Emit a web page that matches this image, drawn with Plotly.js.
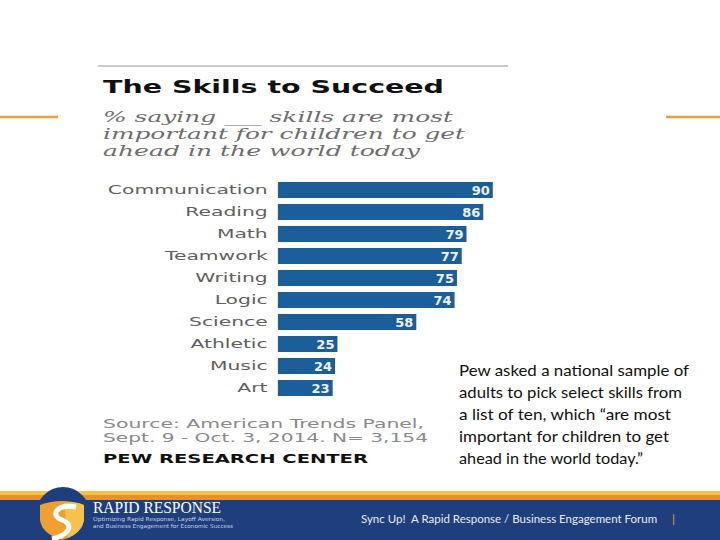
<!DOCTYPE html>
<html>
<head>
<meta charset="utf-8">
<script src="https://cdn.plot.ly/plotly-3.0.1.min.js"></script>
<style>
  html, body { margin: 0; padding: 0; background: #ffffff; }
  #chart { width: 720px; height: 540px; }
</style>
</head>
<body>
<div id="chart"></div>
<script>
// ---------------- data ----------------
const categories = ['Communication', 'Reading', 'Math', 'Teamwork', 'Writing', 'Logic', 'Science', 'Athletic', 'Music', 'Art'];
const values = [90, 86, 79, 77, 75, 74, 58, 25, 24, 23];

const titleText = 'The Skills to Succeed';
const subtitleLines = ['% saying ___ skills are most', 'important for children to get', 'ahead in the world today'];
const sourceLines = ['Source: American Trends Panel,', 'Sept. 9 - Oct. 3, 2014. N= 3,154'];
const brandText = 'PEW RESEARCH CENTER';
const noteLines = [
  'Pew asked a national sample of',
  'adults to pick select skills from',
  'a list of ten, which \u201care most',
  'important for children to get',
  'ahead in the world today.\u201d'
];
const bannerTitle = 'RAPID RESPONSE';
const bannerSubLines = ['Optimizing Rapid Response, Layoff Aversion,', 'and Business Engagement for Economic Success'];
const forumText = 'Sync Up!  A Rapid Response / Business Engagement Forum';
const forumBar = '|';

// ---------------- helpers (pixel -> paper) ----------------
const W = 720, H = 540;
const px = x => x / W;
const py = y => 1 - y / H;

const barColor = '#1b5e99';
const bannerBlue = '#1f3e7d';

const annotations = [];
const stretchTargets = []; // target pixel width per annotation index (null = none)

function addText(text, x, y, font, width) {
  annotations.push({
    text: text, xref: 'paper', yref: 'paper', x: px(x), y: py(y),
    xanchor: 'left', yanchor: 'middle', showarrow: false, align: 'left',
    borderpad: 0, font: font
  });
  stretchTargets.push(width === undefined ? null : width);
}

// Chart title block
addText(titleText, 102, 87, {family: 'DejaVu Sans', size: 18, weight: 'bold', color: '#111111'}, 341);
const subW = [350, 362, 317];
const subY = [117, 134, 151];
subtitleLines.forEach((s, i) => addText(s, 102, subY[i], {family: 'DejaVu Serif', size: 15, style: 'italic', color: '#6e6e6e'}, subW[i]));

// Source + brand
const srcW = [321, 325];
const srcY = [424, 438];
sourceLines.forEach((s, i) => addText(s, 102, srcY[i], {family: 'DejaVu Sans', size: 12, color: '#8a8a8a'}, srcW[i]));
addText(brandText, 102, 459, {family: 'DejaVu Sans', size: 12, weight: 'bold', color: '#111111'}, 265);

// Right-hand note
const noteY = [369, 391, 413, 435, 457];
const noteW = [230, 223, 212, 210, 184];
noteLines.forEach((s, i) => addText(s, 458, noteY[i], {family: 'Lato', size: 16, color: '#111111'}, noteW[i]));

// Banner text
addText(bannerTitle, 92, 507, {family: 'Liberation Serif', size: 16, color: '#ffffff'}, 128);
addText(bannerSubLines[0], 92, 519, {family: 'DejaVu Sans', size: 5.5, color: '#c9d1e6'}, 132);
addText(bannerSubLines[1], 92, 526, {family: 'DejaVu Sans', size: 5.5, color: '#c9d1e6'}, 140);
addText(forumText, 360, 518, {family: 'Lato', size: 11.5, color: '#e8ebf3'});
addText(forumBar, 671, 518, {family: 'Lato', size: 12, color: '#e8a23a'});

// ---------------- shapes ----------------
const shapes = [
  // orange side rules
  {type: 'line', xref: 'paper', yref: 'paper', x0: px(0), x1: px(58), y0: py(117), y1: py(117), line: {color: '#e3a23a', width: 2.5}},
  {type: 'line', xref: 'paper', yref: 'paper', x0: px(666), x1: px(720), y0: py(117), y1: py(117), line: {color: '#e3a23a', width: 2.5}},
  // grey top rule of the chart card
  {type: 'line', xref: 'paper', yref: 'paper', x0: px(98), x1: px(508), y0: py(66), y1: py(66), line: {color: '#b8b8b8', width: 1.5}},
  // banner stripe + body
  {type: 'rect', xref: 'paper', yref: 'paper', x0: 0, x1: 1, y0: py(495), y1: py(491), fillcolor: '#f5c14a', line: {width: 0}},
  {type: 'rect', xref: 'paper', yref: 'paper', x0: 0, x1: 1, y0: py(500), y1: py(495), fillcolor: '#e8912c', line: {width: 0}},
  {type: 'rect', xref: 'paper', yref: 'paper', x0: 0, x1: 1, y0: 0, y1: py(500), fillcolor: bannerBlue, line: {width: 0}},
  // logo dome
  {type: 'circle', xref: 'paper', yref: 'paper', x0: px(36), x1: px(90), y0: py(541), y1: py(487), fillcolor: bannerBlue, line: {width: 0}},
];
function pathPx(cmds) {
  return cmds.map(c => typeof c === 'string' ? c : (px(c[0]).toFixed(5) + ',' + py(c[1]).toFixed(5))).join(' ');
}
shapes.push({type: 'path', xref: 'paper', yref: 'paper', fillcolor: '#f0a030', line: {width: 0},
  path: pathPx(['M', [40, 505], 'Q', [62, 497], [84, 505], 'L', [84, 520], 'Q', [82, 534], [62, 540], 'Q', [42, 534], [40, 520], 'Z'])});
shapes.push({type: 'path', xref: 'paper', yref: 'paper', fillcolor: '#f6c24c', line: {width: 0},
  path: pathPx(['M', [64, 503], 'Q', [76, 501], [84, 505], 'L', [84, 520], 'Q', [82, 532], [68, 538], 'Z'])});
shapes.push({type: 'path', xref: 'paper', yref: 'paper', line: {color: '#ffffff', width: 5},
  path: pathPx(['M', [76, 507], 'C', [56, 503], [50, 516], [62, 520], 'C', [74, 524], [70, 535], [52, 539]])});

// ---------------- plot ----------------
const trace = {
  type: 'bar', orientation: 'h',
  x: values, y: categories,
  marker: {color: barColor, line: {width: 0}},
  text: values.map(String),
  textposition: 'inside', insidetextanchor: 'end', textangle: 0,
  constraintext: 'none',
  textfont: {family: 'DejaVu Sans', size: 13, weight: 'bold', color: '#eef1f5'},
  hoverinfo: 'none', cliponaxis: false
};

const layout = {
  width: W, height: H,
  margin: {l: 0, r: 0, t: 0, b: 0},
  paper_bgcolor: '#ffffff', plot_bgcolor: 'rgba(0,0,0,0)',
  showlegend: false,
  bargap: 0.27,
  xaxis: {domain: [277.7 / W, (277.7 + 239) / W], range: [0, 100], visible: false, fixedrange: true},
  yaxis: {
    domain: [py(399), py(179)],
    type: 'category', categoryorder: 'array', categoryarray: categories,
    autorange: 'reversed',
    showgrid: false, zeroline: false, showline: false, ticks: '',
    ticklabelstandoff: 9,
    tickfont: {family: 'DejaVu Sans', size: 12, color: '#606060'},
    fixedrange: true
  },
  shapes: shapes,
  annotations: annotations
};

function stretch(t, targetW, keep) {
  try {
    const b0 = t.getBBox();
    if (!b0.width || !targetW) return;
    t.setAttribute('textLength', targetW);
    t.setAttribute('lengthAdjust', 'spacingAndGlyphs');
    const b1 = t.getBBox();
    let dx = 0;
    if (keep === 'left') dx = b0.x - b1.x;
    else if (keep === 'right') dx = (b0.x + b0.width) - (b1.x + b1.width);
    if (Math.abs(dx) > 0.05) {
      const tr = t.getAttribute('transform') || '';
      t.setAttribute('transform', 'translate(' + dx.toFixed(2) + ',0) ' + tr);
    }
  } catch (e) {}
}

Plotly.newPlot('chart', [trace], layout, {displayModeBar: false, staticPlot: true}).then(gd => {
  gd.querySelectorAll('.ytick text').forEach(t => {
    try { stretch(t, t.getComputedTextLength() * 1.69, 'right'); } catch (e) {}
  });
  gd.querySelectorAll('.annotation').forEach(g => {
    const idx = +g.getAttribute('data-index');
    const w = stretchTargets[idx];
    const t = g.querySelector('text.annotation-text');
    if (t && w) stretch(t, w, 'left');
  });
});
</script>
</body>
</html>
